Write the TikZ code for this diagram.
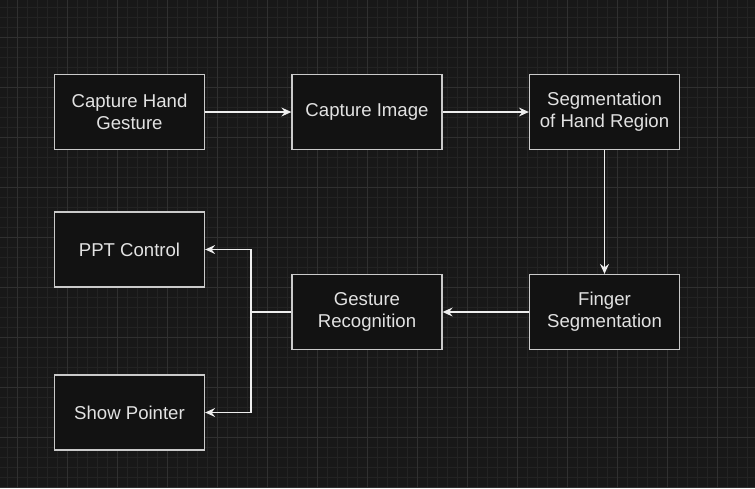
\documentclass[tikz,border=0pt]{standalone}
\usepackage{fontspec}
\setmainfont{Liberation Sans}
\usepackage{tikz}
\usetikzlibrary{arrows.meta}
\definecolor{canvas}{HTML}{181818}
\definecolor{minorgrid}{HTML}{232323}
\definecolor{majorgrid}{HTML}{303030}
\definecolor{boxfill}{HTML}{121212}
\definecolor{boxline}{HTML}{CACACA}
\definecolor{boxtext}{HTML}{E2E2E2}
\definecolor{wire}{HTML}{EEEEEE}

\begin{document}
\begin{tikzpicture}[x=1pt, y=-1pt,
	block/.style={draw=boxline, fill=boxfill, line width=1.3pt, minimum width=150pt, minimum height=75pt, align=center, text=boxtext, font=\fontsize{18.6}{22}\selectfont},
	flow/.style={draw=wire, line width=1.2pt, -{Stealth[length=10pt, width=9pt, inset=3.5pt]}}]
	\useasboundingbox (0,0) rectangle (755,488);
	\fill [canvas] (0,0) rectangle (755,488);
	\foreach \g in {7.3,17.3,...,755} \draw [minorgrid, line width=0.8pt] (\g,0) -- (\g,488);
	\foreach \g in {7.3,17.3,...,488} \draw [minorgrid, line width=0.8pt] (0,\g) -- (755,\g);
	\foreach \g in {17.3,67.3,...,755} \draw [majorgrid, line width=0.9pt] (\g,0) -- (\g,488);
	\foreach \g in {37.3,87.3,...,488} \draw [majorgrid, line width=0.9pt] (0,\g) -- (755,\g);
	\node [block] (hand) at (129.5,112) {Capture Hand\\Gesture};
	\node [block] (image) at (367,112) {Capture Image};
	\node [block] (segment) at (604.5,112) {Segmentation\\of Hand Region};
	\node [block] (finger) at (604.5,312) {Finger\\Segmentation};
	\node [block] (gesture) at (367,312) {Gesture\\Recognition};
	\node [block] (ppt) at (129.5,249.5) {PPT Control};
	\node [block] (pointer) at (129.5,412.5) {Show Pointer};
	\coordinate (split) at (251,312);
	\draw [flow] (hand) -- (image);
	\draw [flow] (image) -- (segment);
	\draw [flow] (segment) -- (finger);
	\draw [flow] (finger) -- (gesture);
	\draw [flow] (gesture.west) -- (split) |- (ppt.east);
	\draw [flow] (split) |- (pointer.east);
\end{tikzpicture}
\end{document}
